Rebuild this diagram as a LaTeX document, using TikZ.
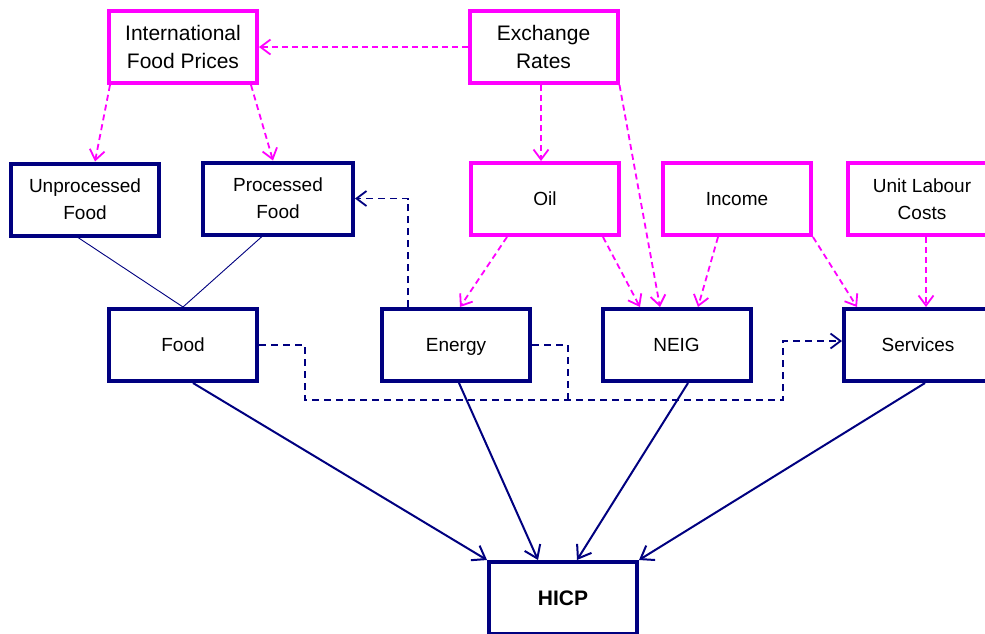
\documentclass[tikz,border=0pt]{standalone}
\usepackage{fontspec}
\setmainfont{Liberation Sans}
\usetikzlibrary{arrows.meta,calc}
\definecolor{navyb}{HTML}{000080}
\definecolor{magb}{HTML}{FF00FF}
\tikzset{
  box/.style={rectangle, draw, line width=4pt, minimum width=148pt, minimum height=72pt, inner sep=0pt, align=center, fill=white, font=\fontsize{19}{27}\selectfont},
  navybox/.style={box, draw=navyb},
  magbox/.style={box, draw=magb},
  bigtext/.style={font=\fontsize{21}{28}\selectfont},
  magarrow/.style={draw=magb, line width=1.8pt, dash pattern=on 6pt off 4pt, -{Straight Barb[length=10pt,width=15pt,line width=1.8pt]}},
  navyarrow/.style={draw=navyb, line width=1.8pt, dash pattern=on 7pt off 5pt, -{Straight Barb[length=10pt,width=15pt,line width=1.8pt]}},
  navyline/.style={draw=navyb, line width=1.8pt, dash pattern=on 7pt off 5pt},
  thinline/.style={draw=navyb, line width=0.9pt},
  solidarrow/.style={draw=navyb, line width=2pt, -{Straight Barb[length=12pt,width=17pt,line width=2pt]}}
}
\begin{document}
\begin{tikzpicture}[x=1pt,y=-1pt]
\useasboundingbox (0,0) rectangle (985,633);
\clip (0,0) rectangle (985,633);
\fill[white] (0,0) rectangle (985,633);
% nodes
\node[magbox, bigtext] (ifp) at (183,47) {International\\Food Prices};
\node[magbox, bigtext] (ex) at (543.5,47) {Exchange\\Rates};
\node[navybox] (unp) at (85,199.5) {Unprocessed\\Food};
\node[navybox, minimum width=150pt] (proc) at (278,198.5) {Processed\\Food};
\node[magbox] (oil) at (545,199) {Oil};
\node[magbox] (inc) at (737,199) {Income};
\node[magbox] (ulc) at (922,199) {Unit Labour\\Costs};
\node[navybox] (food) at (183,345) {Food};
\node[navybox, text depth=0pt] (energy) at (456,345) {Energy};
\node[navybox] (neig) at (676.5,345) {NEIG};
\node[navybox] (serv) at (918,345) {Services};
\node[navybox, font=\fontsize{21}{28}\selectfont\bfseries] (hicp) at (563,598) {HICP};
% magenta dashed arrows
\draw[magarrow] (ex.west) -- (ifp.east);
\draw[magarrow] ([xshift=-73pt]ifp.south) -- ([xshift=10pt]unp.north);
\draw[magarrow] ([xshift=68pt]ifp.south) -- ([xshift=-5pt]proc.north);
\draw[magarrow] ([xshift=-2.5pt]ex.south) -- ([xshift=-4pt]oil.north);
\draw[magarrow] ([xshift=76pt]ex.south) -- ([xshift=-16.5pt]neig.north);
\draw[magarrow] ([xshift=-38pt]oil.south) -- ([xshift=4pt]energy.north);
\draw[magarrow] ([xshift=58pt]oil.south) -- ([xshift=-36.5pt]neig.north);
\draw[magarrow] ([xshift=-19pt]inc.south) -- ([xshift=21.5pt]neig.north);
\draw[magarrow] ([xshift=76pt]inc.south) -- ([xshift=-61pt]serv.north);
\draw[magarrow] ([xshift=4pt]ulc.south) -- ([xshift=8pt]serv.north);
% navy dashed connectors
\coordinate (b1) at (305,400);
\coordinate (b2) at (783,400);
\coordinate (b3) at (568,400);
\draw[navyarrow] ([xshift=-48pt]energy.north) |- (proc.east);
\draw[navyarrow] (food.east) -| (b1) -- (b2) |- ([yshift=4pt]serv.west);
\draw[navyline] (energy.east) -| (b3);
% thin lines
\draw[thinline] ([xshift=-7pt]unp.south) -- (food.north);
\draw[thinline] ([xshift=-16pt]proc.south) -- (food.north);
% solid arrows to HICP
\draw[solidarrow] ([xshift=10pt]food.south) -- (hicp.north west);
\draw[solidarrow] ([xshift=3pt]energy.south) -- ([xshift=-25pt]hicp.north);
\draw[solidarrow] ([xshift=11.5pt]neig.south) -- ([xshift=14pt]hicp.north);
\draw[solidarrow] ([xshift=7pt]serv.south) -- (hicp.north east);
\end{tikzpicture}
\end{document}
